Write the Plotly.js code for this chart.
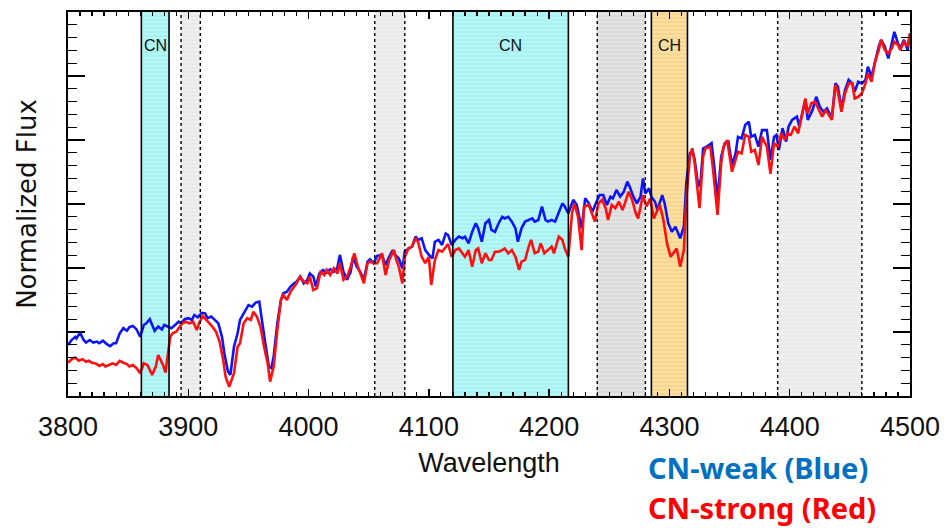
<!DOCTYPE html>
<html>
<head>
<meta charset="utf-8">
<script src="https://cdn.plot.ly/plotly-3.0.1.min.js"></script>
<style>html,body{margin:0;padding:0;background:#fff;}#chart{width:945px;height:528px;}</style>
</head>
<body>
<div id="chart"></div>
<script>
// ---- Data ----
var blueWave = [3800,3803,3806,3807,3810,3813,3815,3818,3821,3824,3826,3829,3832,3835,3838,3840,3843,3846,3849,3851,3854,3857,3860,3863,3865,3868,3870,3872,3875,3878,3880,3883,3886,3889,3892,3894,3897,3900,3903,3905,3908,3911,3914,3916,3919,3922,3925,3928,3930,3933,3935,3938,3941,3943,3947,3950,3953,3956,3959,3961,3964,3967,3969,3971,3974,3977,3979,3982,3985,3988,3990,3993,3996,3999,4001,4004,4006,4009,4012,4015,4018,4021,4024,4026,4029,4032,4035,4037,4040,4043,4046,4049,4051,4054,4057,4061,4064,4067,4070,4072,4075,4078,4080,4083,4086,4089,4091,4094,4097,4100,4103,4105,4108,4111,4114,4116,4119,4122,4125,4128,4130,4133,4136,4139,4141,4144,4147,4150,4152,4155,4158,4161,4163,4166,4169,4172,4174,4177,4180,4183,4186,4188,4191,4194,4197,4199,4202,4205,4208,4211,4213,4216,4220,4223,4227,4230,4233,4236,4240,4242,4245,4248,4251,4253,4256,4259,4262,4265,4267,4270,4273,4276,4278,4280,4283,4285,4288,4290,4294,4296,4299,4302,4305,4309,4312,4314,4317,4319,4321,4324,4326,4328,4331,4335,4337,4340,4343,4346,4349,4352,4355,4357,4360,4363,4366,4368,4371,4374,4377,4381,4384,4387,4389,4391,4394,4397,4399,4402,4406,4408,4413,4415,4419,4422,4425,4428,4431,4435,4438,4440,4443,4446,4449,4452,4454,4457,4460,4463,4465,4468,4471,4474,4476,4479,4482,4485,4487,4490,4492,4495,4498,4500];
var blueFlux = [0.159,0.175,0.185,0.180,0.198,0.175,0.167,0.175,0.167,0.170,0.165,0.173,0.163,0.156,0.165,0.165,0.196,0.212,0.204,0.215,0.219,0.208,0.185,0.222,0.227,0.240,0.222,0.204,0.217,0.208,0.222,0.217,0.212,0.222,0.232,0.227,0.240,0.243,0.238,0.253,0.246,0.260,0.258,0.243,0.248,0.238,0.227,0.185,0.133,0.076,0.066,0.154,0.196,0.238,0.263,0.284,0.279,0.292,0.295,0.238,0.165,0.092,0.087,0.123,0.227,0.300,0.321,0.326,0.342,0.352,0.357,0.373,0.352,0.363,0.383,0.373,0.342,0.383,0.394,0.385,0.396,0.388,0.402,0.441,0.388,0.363,0.388,0.435,0.404,0.388,0.363,0.420,0.427,0.415,0.438,0.441,0.409,0.435,0.456,0.441,0.430,0.399,0.451,0.461,0.467,0.498,0.488,0.493,0.456,0.441,0.430,0.482,0.488,0.472,0.508,0.503,0.472,0.488,0.498,0.493,0.498,0.477,0.513,0.540,0.524,0.482,0.540,0.550,0.519,0.513,0.540,0.560,0.555,0.560,0.545,0.524,0.482,0.524,0.545,0.550,0.555,0.545,0.550,0.592,0.550,0.545,0.550,0.545,0.571,0.602,0.592,0.571,0.613,0.597,0.524,0.618,0.602,0.576,0.613,0.628,0.628,0.597,0.623,0.618,0.644,0.623,0.638,0.670,0.654,0.623,0.602,0.623,0.680,0.633,0.649,0.623,0.607,0.581,0.628,0.602,0.540,0.513,0.529,0.493,0.529,0.665,0.758,0.769,0.738,0.654,0.675,0.774,0.779,0.790,0.727,0.613,0.748,0.790,0.795,0.722,0.758,0.810,0.805,0.847,0.857,0.810,0.816,0.779,0.831,0.831,0.738,0.810,0.816,0.769,0.837,0.795,0.842,0.863,0.873,0.842,0.925,0.863,0.894,0.935,0.904,0.888,0.899,0.868,0.977,0.967,0.899,0.956,0.988,0.977,0.951,0.982,0.977,0.988,1.029,0.998,1.045,1.092,1.113,1.092,1.055,1.102,1.138,1.102,1.087,1.113,1.081,1.133];

var redWave = [3800,3803,3806,3809,3812,3815,3817,3820,3823,3826,3829,3831,3834,3837,3840,3843,3846,3849,3851,3854,3857,3860,3863,3866,3870,3873,3875,3879,3881,3883,3885,3887,3890,3893,3895,3898,3901,3904,3907,3909,3912,3915,3918,3920,3923,3926,3929,3931,3934,3938,3941,3943,3946,3949,3952,3954,3957,3960,3963,3966,3968,3971,3974,3977,3979,3982,3985,3988,3990,3993,3996,3999,4001,4004,4007,4010,4013,4015,4018,4021,4024,4026,4029,4032,4035,4038,4041,4044,4046,4049,4051,4054,4057,4061,4064,4067,4071,4073,4075,4078,4080,4083,4086,4089,4091,4094,4097,4100,4102,4105,4108,4111,4114,4116,4119,4122,4125,4128,4130,4133,4136,4139,4141,4144,4147,4150,4152,4155,4158,4161,4163,4166,4169,4172,4175,4177,4180,4183,4185,4188,4191,4193,4196,4199,4202,4204,4208,4211,4213,4216,4219,4221,4224,4227,4229,4233,4235,4238,4241,4244,4247,4249,4252,4255,4258,4261,4263,4266,4269,4272,4274,4277,4278,4281,4284,4287,4290,4292,4295,4298,4301,4303,4306,4309,4312,4314,4317,4319,4321,4325,4328,4330,4334,4336,4340,4343,4345,4348,4352,4355,4357,4360,4363,4366,4368,4371,4374,4377,4381,4384,4387,4390,4393,4396,4398,4401,4404,4407,4410,4413,4415,4418,4421,4424,4427,4430,4435,4438,4440,4443,4446,4449,4452,4454,4457,4460,4463,4465,4468,4471,4474,4476,4479,4482,4485,4487,4490,4492,4495,4498,4500];
var redFlux = [0.104,0.115,0.120,0.110,0.115,0.107,0.110,0.104,0.102,0.094,0.100,0.092,0.097,0.102,0.097,0.110,0.104,0.100,0.092,0.097,0.087,0.071,0.102,0.097,0.066,0.092,0.128,0.097,0.073,0.123,0.185,0.196,0.201,0.217,0.227,0.232,0.227,0.232,0.206,0.227,0.250,0.238,0.227,0.217,0.201,0.170,0.113,0.060,0.029,0.071,0.154,0.165,0.227,0.243,0.238,0.263,0.248,0.217,0.154,0.102,0.045,0.092,0.206,0.300,0.316,0.300,0.326,0.342,0.352,0.373,0.357,0.352,0.373,0.331,0.337,0.388,0.378,0.394,0.378,0.399,0.383,0.415,0.363,0.373,0.404,0.446,0.404,0.373,0.352,0.415,0.420,0.415,0.415,0.446,0.378,0.425,0.456,0.425,0.404,0.352,0.435,0.461,0.467,0.493,0.482,0.435,0.415,0.435,0.347,0.425,0.456,0.451,0.467,0.475,0.435,0.456,0.461,0.446,0.435,0.456,0.404,0.456,0.461,0.415,0.446,0.425,0.425,0.451,0.451,0.456,0.461,0.446,0.456,0.435,0.394,0.420,0.425,0.467,0.488,0.446,0.451,0.477,0.446,0.456,0.467,0.446,0.498,0.488,0.461,0.435,0.571,0.602,0.560,0.456,0.592,0.597,0.576,0.545,0.602,0.613,0.587,0.550,0.597,0.587,0.607,0.581,0.602,0.638,0.613,0.571,0.555,0.613,0.628,0.592,0.618,0.555,0.581,0.597,0.550,0.477,0.435,0.446,0.461,0.404,0.456,0.613,0.748,0.774,0.727,0.587,0.748,0.774,0.779,0.717,0.566,0.727,0.779,0.800,0.701,0.738,0.763,0.758,0.816,0.810,0.763,0.769,0.722,0.810,0.779,0.694,0.790,0.779,0.821,0.800,0.821,0.816,0.842,0.821,0.873,0.930,0.883,0.915,0.920,0.894,0.873,0.894,0.863,0.972,0.951,0.888,0.946,0.977,0.977,0.930,0.935,0.946,0.977,1.008,0.982,1.045,1.081,1.113,1.081,1.071,1.087,1.107,1.097,1.081,1.107,1.092,1.133];

// Spectral index windows (wavelength ranges)
var bandStart = [3861, 3894, 4055, 4120, 4240, 4285, 4390];
var bandEnd   = [3884, 3910, 4080, 4216, 4280, 4315, 4460];
var bandKind  = ['CN', 'side', 'side', 'CN', 'sideDark', 'CH', 'side'];
var bandLabels = ['CN', '', '', 'CN', '', 'CH', ''];
var legendTexts = ['CN-weak (Blue)', 'CN-strong (Red)'];

// ---- Styling ----
var yMax = 1.2;
var kindStyle = {
  CN:       {bg: '#a6f3f3', fg: '#dcfcfc', edge: 'solid'},
  CH:       {bg: '#fbe0a6', fg: '#f6c15a', edge: 'solid'},
  side:     {bg: '#e9e9e9', fg: '#f9f9f9', edge: 'dot'},
  sideDark: {bg: '#dadada', fg: '#f2f2f2', edge: 'dot'}
};

var traces = [];
Object.keys(kindStyle).forEach(function(kind){
  var xs = [], ws = [], ys = [];
  for (var i = 0; i < bandStart.length; i++) {
    if (bandKind[i] !== kind) continue;
    xs.push((bandStart[i] + bandEnd[i]) / 2);
    ws.push(bandEnd[i] - bandStart[i]);
    ys.push(yMax);
  }
  if (!xs.length) return;
  var st = kindStyle[kind];
  traces.push({
    type: 'bar', x: xs, y: ys, width: ws, base: 0,
    marker: {color: st.bg, line: {width: 0},
             pattern: {shape: '-', fgcolor: st.fg, size: 4, solidity: 0.35, fillmode: 'overlay'}},
    hoverinfo: 'skip', showlegend: false
  });
});

traces.push({type: 'scatter', mode: 'lines', x: blueWave, y: blueFlux,
  line: {color: '#0a14ff', width: 2.6}, showlegend: false, hoverinfo: 'skip'});
traces.push({type: 'scatter', mode: 'lines', x: redWave, y: redFlux,
  line: {color: '#ff1010', width: 2.6}, showlegend: false, hoverinfo: 'skip'});

var shapes = [];
for (var i = 0; i < bandStart.length; i++) {
  var st = kindStyle[bandKind[i]];
  [bandStart[i], bandEnd[i]].forEach(function(xv){
    shapes.push({type: 'line', xref: 'x', yref: 'paper', x0: xv, x1: xv, y0: 0, y1: 1,
      line: {color: '#000', width: st.edge === 'solid' ? 1.6 : 1.4, dash: st.edge === 'solid' ? 'solid' : 'dot'},
      layer: 'above'});
  });
}

var annotations = [];
for (var j = 0; j < bandStart.length; j++) {
  if (!bandLabels[j]) continue;
  annotations.push({xref: 'x', yref: 'paper', x: (bandStart[j] + bandEnd[j]) / 2, y: 0.914,
    text: bandLabels[j], showarrow: false, xanchor: 'center', yanchor: 'middle',
    font: {family: 'Liberation Sans, Arial, sans-serif', size: 16, color: '#111'}});
}
annotations.push({xref: 'paper', yref: 'paper', x: 0.687, y: -0.185, xanchor: 'left', yanchor: 'middle',
  text: '<b>' + legendTexts[0] + '</b>', showarrow: false,
  font: {family: 'Noto Sans, sans-serif', size: 29, color: '#0070c0'}});
annotations.push({xref: 'paper', yref: 'paper', x: 0.687, y: -0.291, xanchor: 'left', yanchor: 'middle',
  text: '<b>' + legendTexts[1] + '</b>', showarrow: false,
  font: {family: 'Noto Sans, sans-serif', size: 29, color: '#ff0000'}});

var layout = {
  width: 945, height: 528,
  margin: {l: 68, r: 35, t: 12, b: 132},
  paper_bgcolor: '#fff', plot_bgcolor: '#fff',
  barmode: 'overlay', bargap: 0,
  showlegend: false,
  xaxis: {
    range: [3800, 4500], tick0: 3800, dtick: 100,
    ticks: 'inside', ticklen: 7, tickwidth: 1.5, tickcolor: '#000',
    minor: {dtick: 10, ticks: 'inside', ticklen: 4, tickwidth: 1.2, tickcolor: '#000'},
    showline: true, linewidth: 2, linecolor: '#000', mirror: 'allticks',
    showgrid: false, zeroline: false, ticklabelstandoff: 6,
    tickfont: {family: 'Liberation Sans, Arial, sans-serif', size: 27, color: '#111'},
    title: {text: 'Wavelength', font: {family: 'Liberation Sans, Arial, sans-serif', size: 27, color: '#111'}, standoff: 12}
  },
  yaxis: {
    range: [0, yMax], tick0: 0, dtick: 0.2, showticklabels: false,
    ticks: 'inside', ticklen: 17, tickwidth: 1.5, tickcolor: '#000',
    minor: {dtick: 0.04, ticks: 'inside', ticklen: 9, tickwidth: 1.2, tickcolor: '#000'},
    showline: true, linewidth: 2, linecolor: '#000', mirror: 'allticks',
    showgrid: false, zeroline: false,
    title: {text: 'Normalized Flux', font: {family: 'DejaVu Sans, sans-serif', size: 26, color: '#111'}, standoff: 22}
  },
  shapes: shapes,
  annotations: annotations
};

Plotly.newPlot('chart', traces, layout, {displayModeBar: false, staticPlot: true});
</script>
</body>
</html>
